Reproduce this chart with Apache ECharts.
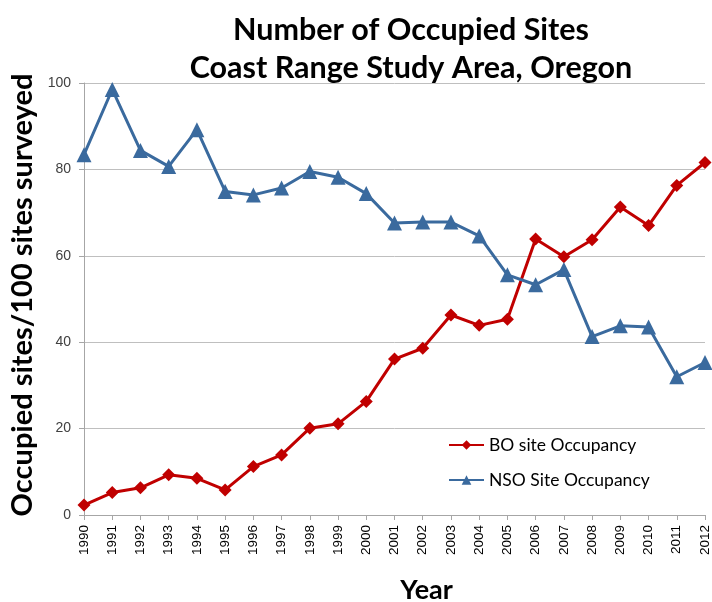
<!DOCTYPE html>
<html>
<head>
<meta charset="utf-8">
<script src="https://cdn.jsdelivr.net/npm/echarts@6/dist/echarts.min.js"></script>
<style>
  html, body { margin: 0; padding: 0; background: #fff; }
  #chart { width: 712px; height: 602px; }
</style>
</head>
<body>
<div id="chart"></div>
<script>
// Survey years
const years = ['1990','1991','1992','1993','1994','1995','1996','1997','1998','1999','2000',
  '2001','2002','2003','2004','2005','2006','2007','2008','2009','2010','2011','2012'];

// Barred owl occupied sites per 100 surveyed
const boOccupancy = [2.3, 5.2, 6.3, 9.3, 8.5, 5.8, 11.2, 13.9, 20.1, 21.1, 26.3,
  36.1, 38.6, 46.3, 43.9, 45.3, 63.9, 59.8, 63.7, 71.3, 67.0, 76.3, 81.6];

// Northern spotted owl occupied sites per 100 surveyed
const nsoOccupancy = [83.4, 98.5, 84.4, 80.7, 89.2, 74.9, 74.1, 75.7, 79.5, 78.2, 74.4,
  67.6, 67.8, 67.8, 64.6, 55.6, 53.3, 56.8, 41.3, 43.8, 43.5, 32.0, 35.3];

const yTicks = { min: 0, max: 100, interval: 20 };

const chart = echarts.init(document.getElementById('chart'), null, { renderer: 'canvas' });

const titleFont = 'Lato, "Open Sans", sans-serif';
const bodyFont = '"Liberation Sans", Arial, sans-serif';

chart.setOption({
  animation: false,
  backgroundColor: '#ffffff',
  title: {
    text: 'Number of Occupied Sites\nCoast Range Study Area, Oregon',
    left: 406,
    top: 6,
    textAlign: 'center',
    textStyle: {
      fontFamily: titleFont,
      fontWeight: 'bold',
      fontSize: 30.5,
      lineHeight: 38,
      color: '#000'
    }
  },
  legend: {
    orient: 'vertical',
    left: 443,
    top: 431,
    itemGap: 17,
    itemWidth: 35,
    itemHeight: 12,
    textStyle: { fontFamily: titleFont, fontSize: 17.5, color: '#000' },
    data: ['BO site Occupancy', 'NSO Site Occupancy']
  },
  grid: {
    left: 84, right: 7, top: 83, bottom: 87,
    containLabel: false,
    outerBoundsMode: 'none'
  },
  xAxis: {
    type: 'category',
    data: years,
    boundaryGap: false,
    name: 'Year',
    nameLocation: 'middle',
    nameGap: 62,
    nameTextStyle: {
      fontFamily: titleFont, fontWeight: 'bold', fontSize: 27, color: '#000',
      padding: [0, 0, 0, 64]
    },
    axisLine: { lineStyle: { color: '#a6a6a6', width: 1 } },
    axisTick: { show: true, length: 5, lineStyle: { color: '#a6a6a6' } },
    axisLabel: { rotate: 90, fontFamily: bodyFont, fontSize: 13.5, color: '#000', margin: 10 },
    splitLine: { show: false }
  },
  yAxis: {
    type: 'value',
    min: yTicks.min,
    max: yTicks.max,
    interval: yTicks.interval,
    name: 'Occupied sites/100 sites surveyed',
    nameLocation: 'middle',
    nameGap: 45,
    nameRotate: 90,
    nameTextStyle: {
      fontFamily: titleFont, fontWeight: 'bold', fontSize: 29, color: '#000',
      padding: [0, 0, 0, 8]
    },
    axisLine: { show: true, lineStyle: { color: '#a6a6a6', width: 1 } },
    axisTick: { show: true, length: 5, lineStyle: { color: '#a6a6a6' } },
    axisLabel: { fontFamily: bodyFont, fontSize: 14, color: '#404040', margin: 13 },
    splitLine: { show: true, lineStyle: { color: '#bfbfbf', width: 1 } }
  },
  series: [
    {
      name: 'BO site Occupancy',
      type: 'line',
      data: boOccupancy,
      symbol: 'diamond',
      symbolSize: 13,
      itemStyle: { color: '#c00000' },
      lineStyle: { color: '#c00000', width: 3 },
      z: 2
    },
    {
      name: 'NSO Site Occupancy',
      type: 'line',
      data: nsoOccupancy,
      symbol: 'triangle',
      symbolSize: 15,
      itemStyle: { color: '#3a6a9e' },
      lineStyle: { color: '#3a6a9e', width: 3 },
      z: 3
    }
  ]
});
</script>
</body>
</html>
